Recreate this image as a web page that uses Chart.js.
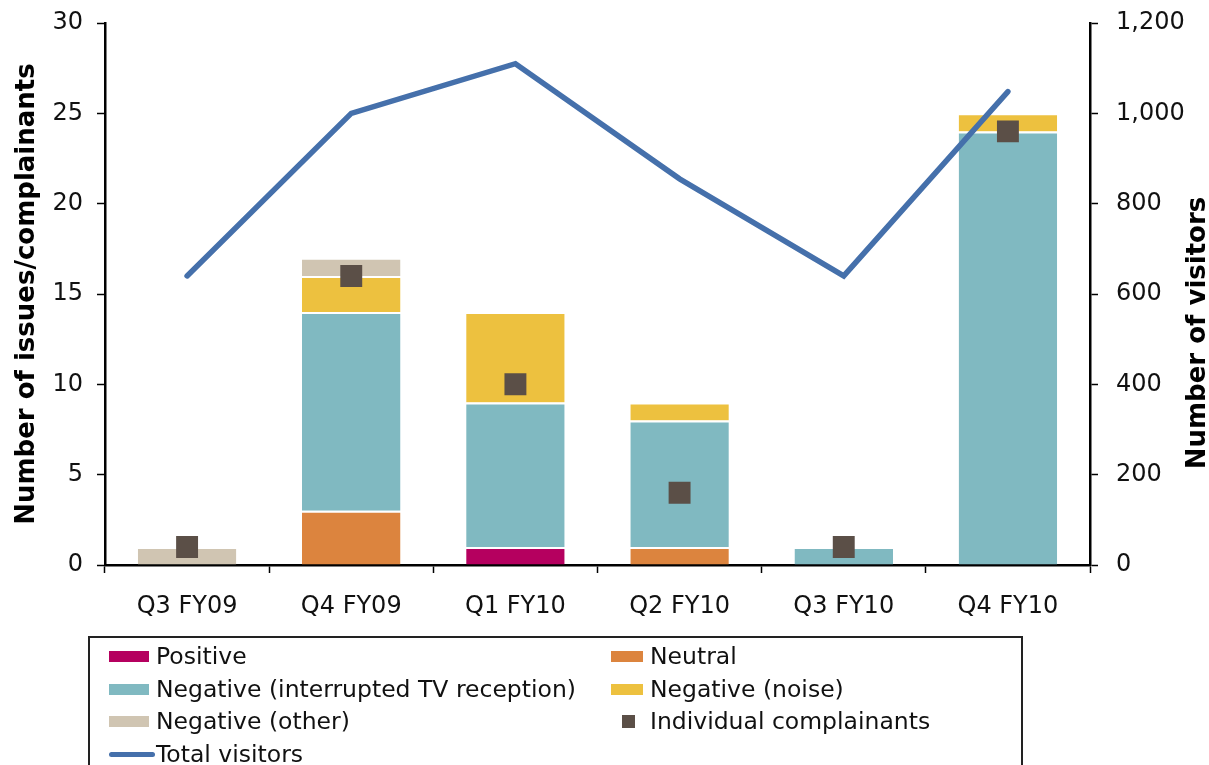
<!DOCTYPE html>
<html>
<head>
<meta charset="utf-8">
<script src="https://cdn.jsdelivr.net/npm/chart.js@4.4.1/dist/chart.umd.min.js"></script>
<style>
  html, body { margin: 0; padding: 0; background: #fff; }
  #wrap { position: relative; width: 1209px; height: 765px; overflow: hidden; }
  #chart { position: absolute; left: 0; top: 0; }
  #legend {
    position: absolute; left: 88px; top: 636px; width: 935px; height: 160px;
    border: 2px solid #222; box-sizing: border-box;
    font-family: "DejaVu Sans", Verdana, sans-serif; font-size: 23.5px; color: #111;
  }
  .item { position: absolute; height: 32px; line-height: 32px; white-space: nowrap; }
  .sw { position: absolute; top: 11px; height: 11px; }
  .txt { position: absolute; top: 0; }
</style>
</head>
<body>
<div id="wrap">
  <canvas id="chart" width="1209" height="765"></canvas>
  <div id="legend"></div>
</div>
<script>
  const quarters = ['Q3 FY09', 'Q4 FY09', 'Q1 FY10', 'Q2 FY10', 'Q3 FY10', 'Q4 FY10'];

  const positive = [0, 0, 1, 0, 0, 0];
  const neutral = [0, 3, 0, 1, 0, 0];
  const negTv = [0, 11, 8, 7, 1, 24];
  const negNoise = [0, 2, 5, 1, 0, 1];
  const negOther = [1, 1, 0, 0, 0, 0];
  const complainants = [1, 16, 10, 4, 1, 24];
  const visitors = [640, 1000, 1110, 855, 640, 1048];

  const leftTicks = [0, 5, 10, 15, 20, 25, 30];
  const rightTicks = [0, 200, 400, 600, 800, 1000, 1200];

  const FONT = '"DejaVu Sans", Verdana, sans-serif';
  const C = {
    positive: '#b5005f',
    neutral: '#dc843e',
    tv: '#80b9c1',
    noise: '#edc13f',
    other: '#d0c5b2',
    dots: '#5b4f47',
    line: '#4570ab'
  };

  function bar(label, data, color, order) {
    return {
      type: 'bar', label, data, backgroundColor: color,
      borderColor: '#fff', borderWidth: { top: 2, bottom: 0, left: 0, right: 0 },
      borderSkipped: false, yAxisID: 'y', stack: 's', order,
      categoryPercentage: 1, barPercentage: 0.6
    };
  }

  // keep the plot area where the reference has it
  function fitY(width) {
    return (s) => { s.width = width; s.paddingTop = 0; s.paddingBottom = 0; };
  }

  // right title reads bottom-to-top, so draw it ourselves
  const rightTitle = {
    id: 'rightTitle',
    afterDraw(chart) {
      const ctx = chart.ctx;
      ctx.save();
      ctx.translate(1198, 333);
      ctx.rotate(-Math.PI / 2);
      ctx.font = 'bold 26px ' + FONT;
      ctx.fillStyle = '#000';
      ctx.textAlign = 'center';
      ctx.textBaseline = 'middle';
      ctx.fillText('Number of visitors', 0, 0);
      ctx.restore();
    }
  };

  new Chart(document.getElementById('chart'), {
    data: {
      labels: quarters,
      datasets: [
        {
          type: 'line', label: 'Total visitors', data: visitors, yAxisID: 'y1',
          borderColor: C.line, borderWidth: 5.5, pointRadius: 0,
          borderCapStyle: 'round', borderJoinStyle: 'miter', tension: 0, order: 0
        },
        {
          type: 'line', label: 'Individual complainants', data: complainants, yAxisID: 'y',
          showLine: false, pointStyle: 'rect', pointRadius: 15.5,
          pointBackgroundColor: C.dots, pointBorderColor: C.dots, pointBorderWidth: 0, order: 1
        },
        bar('Positive', positive, C.positive, 2),
        bar('Neutral', neutral, C.neutral, 3),
        bar('Negative (interrupted TV reception)', negTv, C.tv, 4),
        bar('Negative (noise)', negNoise, C.noise, 5),
        bar('Negative (other)', negOther, C.other, 6)
      ]
    },
    options: {
      responsive: false,
      animation: false,
      layout: { padding: { top: 23, bottom: 140, left: 0, right: 0 } },
      plugins: { legend: { display: false }, tooltip: { enabled: false } },
      scales: {
        x: {
          stacked: true,
          offset: true,
          grid: { display: true, offset: true, drawOnChartArea: false, tickLength: 8, tickColor: '#000', tickWidth: 1.5 },
          border: { color: '#000', width: 2.5 },
          ticks: { color: '#111', font: { family: FONT, size: 24 }, padding: 19, maxRotation: 0 },
          afterFit: (s) => { s.height = 60; s.paddingLeft = 0; s.paddingRight = 0; }
        },
        y: {
          position: 'left', stacked: true, min: 0, max: 30,
          afterBuildTicks: (s) => { s.ticks = leftTicks.map(v => ({ value: v })); },
          grid: { drawOnChartArea: false, tickLength: 8, tickColor: '#000', tickWidth: 1.5 },
          border: { color: '#000', width: 2.5 },
          ticks: { color: '#111', font: { family: FONT, size: 24 }, padding: 14 },
          title: { display: true, text: 'Number of issues/complainants', color: '#000',
                   font: { family: FONT, size: 26, weight: 'bold' }, padding: { top: 12, bottom: 0 } },
          afterFit: fitY(105)
        },
        y1: {
          position: 'right', min: 0, max: 1200,
          afterBuildTicks: (s) => { s.ticks = rightTicks.map(v => ({ value: v })); },
          grid: { drawOnChartArea: false, tickLength: 8, tickColor: '#000', tickWidth: 1.5 },
          border: { color: '#000', width: 2.5 },
          ticks: { color: '#111', font: { family: FONT, size: 24 }, padding: 18,
                   callback: (v) => v.toLocaleString('en-US') },
          afterFit: fitY(119)
        }
      }
    },
    plugins: [rightTitle]
  });

  // legend, two columns in a bordered box
  const legendItems = [
    { text: 'Positive', kind: 'bar', color: C.positive, col: 0, row: 0 },
    { text: 'Neutral', kind: 'bar', color: C.neutral, col: 1, row: 0 },
    { text: 'Negative (interrupted TV reception)', kind: 'bar', color: C.tv, col: 0, row: 1 },
    { text: 'Negative (noise)', kind: 'bar', color: C.noise, col: 1, row: 1 },
    { text: 'Negative (other)', kind: 'bar', color: C.other, col: 0, row: 2 },
    { text: 'Individual complainants', kind: 'dot', color: C.dots, col: 1, row: 2 },
    { text: 'Total visitors', kind: 'line', color: C.line, col: 0, row: 3 }
  ];
  const legend = document.getElementById('legend');
  legendItems.forEach(it => {
    const el = document.createElement('div');
    el.className = 'item';
    const x0 = it.col === 0 ? 19 : 521;
    el.style.left = x0 + 'px';
    el.style.top = (2 + it.row * 32.5) + 'px';
    const sw = document.createElement('div');
    sw.className = 'sw';
    sw.style.background = it.color;
    const tx = document.createElement('span');
    tx.className = 'txt';
    tx.textContent = it.text;
    if (it.kind === 'bar') {
      sw.style.left = '0px'; sw.style.width = it.col === 0 ? '40px' : '32px';
      tx.style.left = (it.col === 0 ? 47 : 39) + 'px';
    } else if (it.kind === 'dot') {
      sw.style.left = '11px'; sw.style.width = '13px'; sw.style.height = '13px'; sw.style.top = '10px';
      tx.style.left = '39px';
    } else {
      sw.style.left = '0px'; sw.style.width = '46px'; sw.style.height = '5px'; sw.style.top = '14px';
      sw.style.borderRadius = '3px';
      tx.style.left = '47px';
    }
    el.appendChild(sw);
    el.appendChild(tx);
    legend.appendChild(el);
  });
</script>
</body>
</html>
